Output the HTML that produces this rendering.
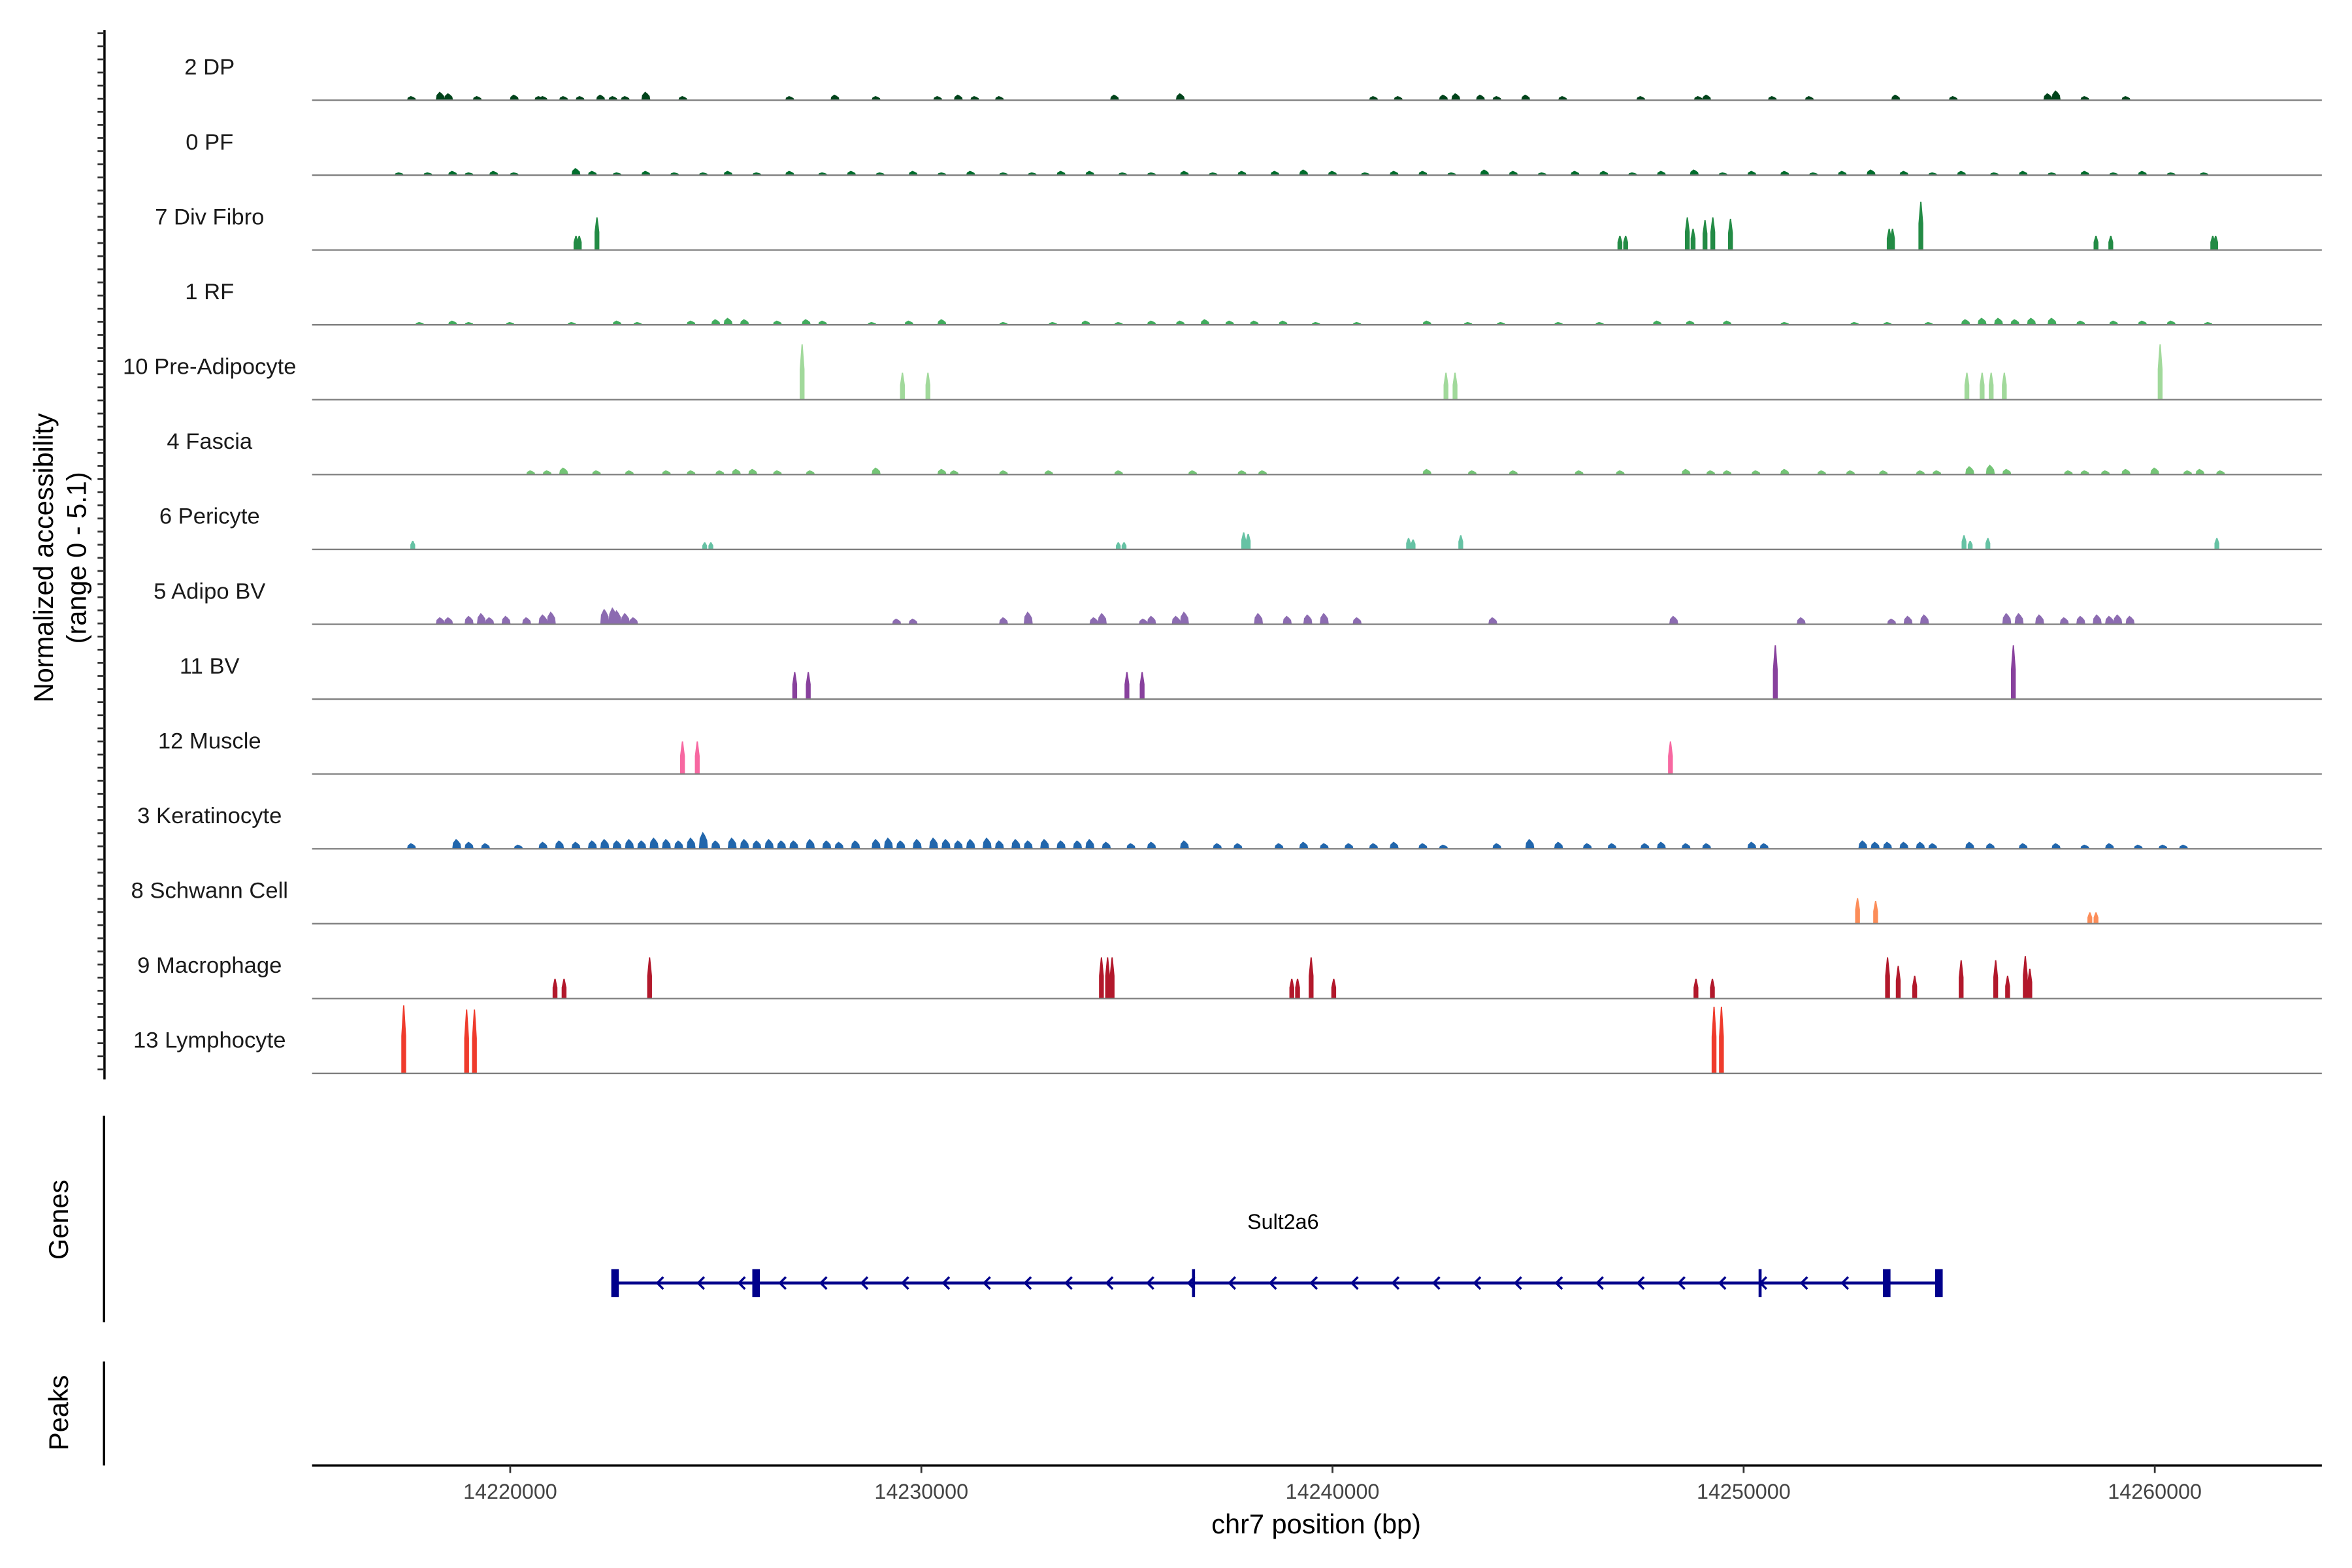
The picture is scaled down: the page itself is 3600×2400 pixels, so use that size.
<!DOCTYPE html>
<html><head><meta charset="utf-8">
<style>
html,body{margin:0;padding:0;background:#fff;}
svg{display:block;font-family:"Liberation Sans",sans-serif;}
</style></head>
<body>
<svg id="chart" xmlns="http://www.w3.org/2000/svg" width="3600" height="2400" viewBox="0 0 1560 1040">
<rect width="1560" height="1040" fill="#fff"/>
<g id="tracks"></g>
<g id="axisL"></g>
<text transform="translate(35,370) rotate(-90)" text-anchor="middle" font-size="18" fill="#000">Normalized accessibility</text>
<text transform="translate(57,370) rotate(-90)" text-anchor="middle" font-size="18" fill="#000">(range 0 - 5.1)</text>
<line x1="69" y1="740" x2="69" y2="877" stroke="#000" stroke-width="1.5"/>
<text transform="translate(45,809) rotate(-90)" text-anchor="middle" font-size="18">Genes</text>
<line x1="69" y1="903" x2="69" y2="972" stroke="#000" stroke-width="1.5"/>
<text transform="translate(45,937) rotate(-90)" text-anchor="middle" font-size="18">Peaks</text>
<g id="gene"></g>
<g id="xaxis"></g>
<text x="873" y="1017" text-anchor="middle" font-size="18">chr7 position (bp)</text>
</svg>
<script>
const NS="http://www.w3.org/2000/svg";
const xTicks=[14220,14230,14240,14250,14260];
const trackNames=["2 DP","0 PF","7 Div Fibro","1 RF","10 Pre-Adipocyte","4 Fascia","6 Pericyte","5 Adipo BV","11 BV","12 Muscle","3 Keratinocyte","8 Schwann Cell","9 Macrophage","13 Lymphocyte"];
const trackColors=["#00441b","#006d2c","#238b45","#41ab5d","#a1d99b","#74c476","#66c2a4","#8c6bb1","#88419d","#f768a1","#2166ac","#fc8d59","#b2182b","#ef3b2c"];
const dpPos=[14217.6,14218.3,14218.5,14219.2,14220.1,14220.7,14220.8,14221.3,14221.7,14222.2,14222.5,14222.8,14223.3,14224.2,14226.8,14227.9,14228.9,14230.4,14230.9,14231.3,14231.9,14234.7,14236.3,14241.0,14241.6,14242.7,14243.0,14243.6,14244.0,14244.7,14245.6,14247.5,14248.9,14249.1,14250.7,14251.6,14253.7,14255.1,14257.4,14257.6,14258.3,14259.3];
const dpVal=[0.3,0.6,0.5,0.3,0.4,0.3,0.3,0.3,0.3,0.4,0.3,0.3,0.6,0.3,0.3,0.4,0.3,0.3,0.4,0.3,0.3,0.4,0.5,0.3,0.3,0.4,0.5,0.4,0.3,0.4,0.3,0.3,0.3,0.4,0.3,0.3,0.4,0.3,0.5,0.7,0.3,0.3];
const pfPos=[14217.3,14218.0,14218.6,14219.0,14219.6,14220.1,14221.6,14222.0,14222.6,14223.3,14224.0,14224.7,14225.3,14226.0,14226.8,14227.6,14228.3,14229.0,14229.8,14230.5,14231.2,14232.0,14232.7,14233.4,14234.1,14234.9,14235.6,14236.4,14237.1,14237.8,14238.6,14239.3,14240.0,14240.8,14241.5,14242.2,14242.9,14243.7,14244.4,14245.1,14245.9,14246.6,14247.3,14248.0,14248.8,14249.5,14250.2,14251.0,14251.7,14252.4,14253.1,14253.9,14254.6,14255.3,14256.1,14256.8,14257.5,14258.3,14259.0,14259.7,14260.4,14261.2];
const pfVal=[0.2,0.2,0.3,0.2,0.3,0.2,0.5,0.3,0.2,0.3,0.2,0.2,0.3,0.2,0.3,0.2,0.3,0.2,0.3,0.2,0.3,0.2,0.2,0.3,0.3,0.2,0.2,0.3,0.2,0.3,0.3,0.4,0.3,0.2,0.3,0.3,0.2,0.4,0.3,0.2,0.3,0.3,0.2,0.3,0.4,0.2,0.3,0.3,0.2,0.3,0.4,0.3,0.2,0.3,0.2,0.3,0.2,0.3,0.2,0.3,0.2,0.2];
const dfPos=[14221.60,14221.68,14222.11,14246.99,14247.13,14248.63,14248.77,14249.06,14249.25,14249.68,14253.54,14253.62,14254.31,14258.57,14258.93,14261.41,14261.48];
const dfVal=[1.0,1.0,2.3,1.0,1.0,2.3,1.5,2.1,2.3,2.2,1.5,1.5,3.4,1.0,1.0,1.0,1.0];
const rfPos=[14217.8,14218.6,14219.0,14220.0,14221.5,14222.6,14223.1,14224.4,14225.0,14225.3,14225.7,14226.5,14227.2,14227.6,14228.8,14229.7,14230.5,14232.0,14233.2,14234.0,14234.8,14235.6,14236.3,14236.9,14237.5,14238.1,14238.8,14239.6,14240.6,14242.3,14243.3,14244.1,14245.5,14246.5,14247.9,14248.7,14249.6,14251.0,14252.7,14253.5,14254.5,14255.4,14255.8,14256.2,14256.6,14257.0,14257.5,14258.2,14259.0,14259.7,14260.4,14261.3];
const rfVal=[0.2,0.3,0.2,0.2,0.2,0.3,0.2,0.3,0.4,0.5,0.4,0.3,0.4,0.3,0.2,0.3,0.4,0.2,0.2,0.3,0.2,0.3,0.3,0.4,0.3,0.3,0.3,0.2,0.2,0.3,0.2,0.2,0.2,0.2,0.3,0.3,0.3,0.2,0.2,0.2,0.2,0.4,0.5,0.5,0.4,0.5,0.5,0.3,0.3,0.3,0.3,0.2];
const paPos=[14227.10,14229.54,14230.16,14242.76,14242.98,14255.43,14255.80,14256.02,14256.34,14260.13];
const paVal=[3.9,1.9,1.9,1.9,1.9,1.9,1.9,1.9,1.9,3.9];
const faPos=[14220.5,14220.9,14221.3,14222.1,14222.9,14223.8,14224.4,14225.1,14225.5,14225.9,14226.5,14227.3,14228.9,14230.5,14230.8,14232.0,14233.1,14234.8,14236.6,14237.8,14238.3,14242.3,14243.4,14244.4,14246.0,14247.0,14248.6,14249.2,14249.6,14250.3,14251.0,14251.9,14252.6,14253.4,14254.3,14254.7,14255.5,14256.0,14256.4,14257.9,14258.3,14258.8,14259.3,14260.0,14260.8,14261.1,14261.6];
const faVal=[0.3,0.3,0.5,0.3,0.3,0.3,0.3,0.3,0.4,0.4,0.3,0.3,0.5,0.4,0.3,0.3,0.3,0.3,0.3,0.3,0.3,0.4,0.3,0.3,0.3,0.3,0.4,0.3,0.3,0.3,0.4,0.3,0.3,0.3,0.3,0.3,0.6,0.7,0.4,0.3,0.3,0.3,0.4,0.5,0.3,0.4,0.3];
const peDPos=[14217.63,14224.73,14224.88,14234.79,14234.93,14237.84,14237.95,14241.85,14241.96,14243.12,14255.36,14255.51,14255.94,14261.51];
const peVal=[0.6,0.5,0.5,0.5,0.5,1.2,1.1,0.8,0.7,1.0,1.0,0.6,0.8,0.8];
const abPos=[14218.3,14218.5,14219.0,14219.3,14219.5,14219.9,14220.4,14220.8,14221.0,14222.3,14222.5,14222.6,14222.8,14223.0,14229.4,14229.8,14232.0,14232.6,14234.2,14234.4,14235.4,14235.6,14236.2,14236.4,14238.2,14238.9,14239.4,14239.8,14240.6,14243.9,14248.3,14251.4,14253.6,14254.0,14254.4,14256.4,14256.7,14257.2,14257.8,14258.2,14258.6,14258.9,14259.1,14259.4];
const abVal=[0.5,0.5,0.6,0.8,0.5,0.6,0.5,0.7,0.9,1.1,1.2,1.0,0.8,0.5,0.4,0.4,0.5,0.9,0.5,0.8,0.4,0.6,0.6,0.9,0.8,0.6,0.7,0.8,0.5,0.5,0.6,0.5,0.4,0.6,0.7,0.8,0.8,0.7,0.5,0.6,0.7,0.6,0.7,0.6];
const bvPos=[14226.92,14227.25,14235.00,14235.37,14250.77,14256.56];
const bvVal=[1.9,1.9,1.9,1.9,3.8,3.8];
const muPos=[14224.19,14224.55,14248.22];
const muVal=[2.3,2.3,2.3];
const kePos=[14217.6,14218.7,14219.0,14219.4,14220.2,14220.8,14221.2,14221.6,14222.0,14222.3,14222.6,14222.9,14223.2,14223.5,14223.8,14224.1,14224.4,14224.7,14225.0,14225.4,14225.7,14226.0,14226.3,14226.6,14226.9,14227.3,14227.7,14228.0,14228.4,14228.9,14229.2,14229.5,14229.9,14230.3,14230.6,14230.9,14231.2,14231.6,14231.9,14232.3,14232.6,14233.0,14233.4,14233.8,14234.1,14234.5,14235.1,14235.6,14236.4,14237.2,14237.7,14238.7,14239.3,14239.8,14240.4,14241.0,14241.5,14242.2,14242.7,14244.0,14244.8,14245.5,14246.2,14246.8,14247.6,14248.0,14248.6,14249.1,14250.2,14250.5,14252.9,14253.2,14253.5,14253.9,14254.3,14254.6,14255.5,14256.0,14256.8,14257.6,14258.3,14258.9,14259.6,14260.2,14260.7];
const keVal=[0.4,0.7,0.5,0.4,0.3,0.5,0.6,0.5,0.6,0.7,0.6,0.7,0.6,0.8,0.7,0.6,0.8,1.2,0.6,0.8,0.7,0.6,0.7,0.6,0.6,0.7,0.6,0.5,0.6,0.7,0.8,0.6,0.7,0.8,0.7,0.6,0.7,0.8,0.6,0.7,0.6,0.7,0.6,0.6,0.7,0.5,0.4,0.5,0.6,0.4,0.4,0.4,0.5,0.4,0.4,0.4,0.5,0.4,0.3,0.4,0.7,0.5,0.4,0.4,0.4,0.5,0.4,0.4,0.5,0.4,0.6,0.5,0.5,0.5,0.5,0.4,0.5,0.4,0.4,0.4,0.3,0.4,0.3,0.3,0.3];
const swPos=[14252.77,14253.21,14258.42,14258.57];
const swVal=[1.8,1.6,0.8,0.8];
const maPos=[14221.09,14221.31,14223.39,14234.38,14234.53,14234.64,14239.01,14239.15,14239.48,14240.03,14248.84,14249.24,14253.50,14253.76,14254.16,14255.29,14256.13,14256.42,14256.85,14256.96];
const maVal=[1.4,1.4,2.9,2.9,2.9,2.9,1.4,1.4,2.9,1.4,1.4,1.4,2.9,2.3,1.6,2.7,2.7,1.6,3.0,2.1];
const lyPos=[14217.41,14218.94,14219.13,14249.28,14249.46];
const lyVal=[4.8,4.5,4.5,4.7,4.7];
const trackPos=[dpPos,pfPos,dfPos,rfPos,paPos,faPos,peDPos,abPos,bvPos,muPos,kePos,swPos,maPos,lyPos];
const trackVal=[dpVal,pfVal,dfVal,rfVal,paVal,faVal,peVal,abVal,bvVal,muVal,keVal,swVal,maVal,lyVal];
const sharp=[false,false,true,false,true,false,true,false,true,true,false,true,true,true];
const geneStart=14222.55, geneEnd=14254.75;
const exonPos=[14222.55,14225.98,14236.62,14250.40,14253.48,14254.75];
const exonThick=[true,true,false,false,true,true];

const X0=207,X1=1540;
function xs(kb){return 338.4+(kb-14220)*27.27;}
function ys(v){return v/5.1*48;}
const baseY=i=>66.5+i*49.65;
function mk(tag,attrs,parent){const e=document.createElementNS(NS,tag);for(const k in attrs)e.setAttribute(k,attrs[k]);parent.appendChild(e);return e;}

const tracks=document.getElementById('tracks');
trackNames.forEach((name,i)=>{
  const by=baseY(i);
  const g=mk('g',{},tracks);
  
  
  const t=mk('text',{x:139,y:by-17,'text-anchor':'middle','font-size':15,fill:'#1a1a1a'},g);
  t.textContent=name;
  
  
  trackPos[i].forEach((p,j)=>{
    const x=xs(p),h=ys(trackVal[i][j]);
    let pts;
    if(sharp[i]) pts=[[x-1.6,by],[x-1.6,by-h*0.55],[x-0.4,by-h],[x+0.4,by-h],[x+1.6,by-h*0.55],[x+1.6,by]];
    else pts=[[x-3,by],[x-2.5,by-h*0.6],[x-0.5,by-h],[x+1,by-h*0.8],[x+2.5,by-h*0.5],[x+3,by]];
    const pg=mk('polygon',{points:pts.map(q=>q.join(',')).join(' '),fill:trackColors[i]},g);
    
    
  });
  const bl=mk('line',{x1:X0,x2:X1,y1:by,y2:by,stroke:'#7f7f7f','stroke-width':1},g);
  
  
});

const axisL=document.getElementById('axisL');
mk('line',{x1:69.3,y1:20,x2:69.3,y2:716,stroke:'#000','stroke-width':1.5},axisL);
for(let y=22;y<=716;y+=8.7){mk('line',{x1:64.7,y1:y,x2:69.3,y2:y,stroke:'#333','stroke-width':1.2},axisL);}

const gene=document.getElementById('gene');
const gl=mk('text',{x:851,y:815,'text-anchor':'middle','font-size':14},gene);
gl.textContent='Sult2a6';


const gy=851,gc='#00008b';
mk('line',{x1:xs(geneStart),x2:xs(geneEnd),y1:gy,y2:gy,stroke:gc,'stroke-width':2},gene);
for(let x=xs(geneStart)+28;x<xs(geneEnd)-10;x+=27.1){
  mk('polyline',{points:`${x+4},${gy-4} ${x},${gy} ${x+4},${gy+4}`,fill:'none',stroke:gc,'stroke-width':1.5},gene);
}
exonPos.forEach((p,j)=>{
  const w=exonThick[j]?5:2, h=18.5;
  const r=mk('rect',{x:xs(p)-w/2,y:gy-h/2,width:w,height:h,fill:gc},gene);
  
  
});

const xa=document.getElementById('xaxis');
mk('line',{x1:X0,x2:X1,y1:972,y2:972,stroke:'#000','stroke-width':1.5},xa);
xTicks.forEach(t=>{
  const x=xs(t);
  mk('line',{x1:x,x2:x,y1:972,y2:977,stroke:'#333','stroke-width':1.2},xa);
  const tx=mk('text',{x:x,y:994,'text-anchor':'middle','font-size':14,fill:'#444'},xa);
  tx.textContent=String(t*1000);
  
  
});
</script>
</body></html>
